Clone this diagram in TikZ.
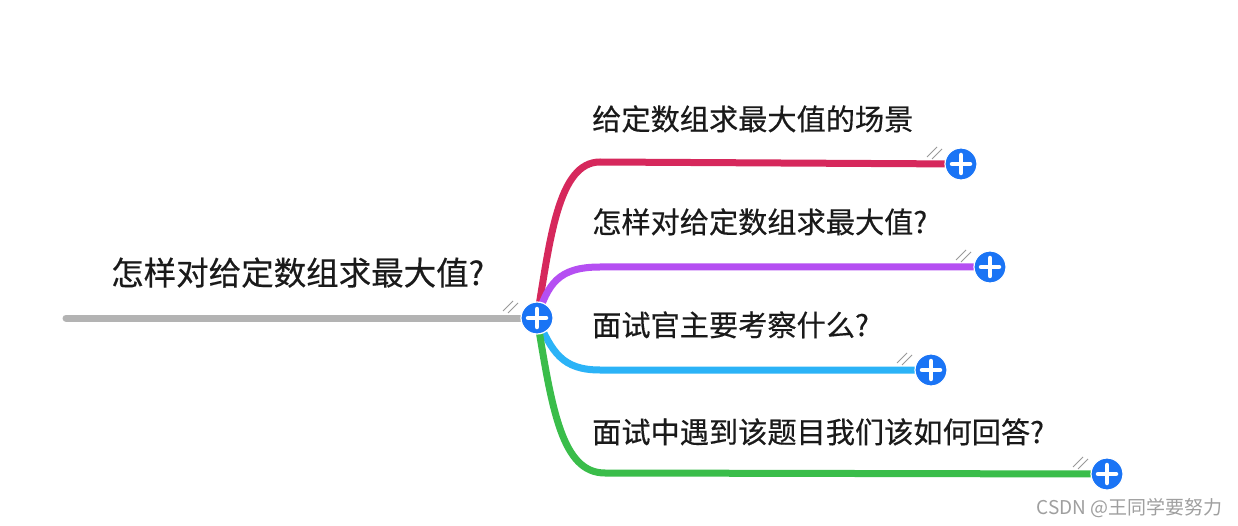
\documentclass[tikz,border=0pt]{standalone}
\usepackage{fontspec}
\setmainfont{Noto Sans CJK SC}[FakeBold=0.4]
\newfontfamily\wmfont{Noto Sans CJK SC}
\definecolor{rootgray}{HTML}{B3B3B3}
\definecolor{bred}{HTML}{D6285C}
\definecolor{bpurple}{HTML}{B54FF2}
\definecolor{bblue}{HTML}{2BB3F7}
\definecolor{bgreen}{HTML}{3ABD4A}
\definecolor{plusblue}{HTML}{1A74F5}
\definecolor{txt}{HTML}{1A1A1A}
\tikzset{
  branch/.style={line width=7pt, line cap=round},
  plusnode/.style={circle, fill=plusblue, draw=white, line width=1.2pt, minimum size=32pt, inner sep=0pt,
    path picture={\draw[white, line width=4.5pt, line cap=round]
      ([xshift=-9pt]path picture bounding box.center) -- ([xshift=9pt]path picture bounding box.center)
      ([yshift=-9pt]path picture bounding box.center) -- ([yshift=9pt]path picture bounding box.center);}},
  roottext/.style={anchor=base west, inner sep=0pt, font=\fontsize{32.5}{36}\selectfont, text=txt},
  brtext/.style={anchor=base west, inner sep=0pt, font=\fontsize{29.2}{33}\selectfont, text=txt},
  slashes/.style={draw=gray!80, line width=1pt}
}
\begin{document}
\begin{tikzpicture}[x=1pt, y=-1pt]
\useasboundingbox (0,0) rectangle (1238,526);
\fill[white] (0,0) rectangle (1238,526);
% coordinates
\coordinate (rstart) at (66,318);
\coordinate (c) at (537,318);
\coordinate (e1) at (961,164);
\coordinate (e2) at (990,267);
\coordinate (e3) at (931,370);
\coordinate (e4) at (1107,474);
% root line
\draw[branch, rootgray] (rstart) -- (c);
% branches
\draw[branch, bred] (c) .. controls (550,240) and (558,162) .. (600,162) -- (e1);
\draw[branch, bpurple] (c) .. controls (548,284) and (558,267) .. (600,267) -- (e2);
\draw[branch, bblue] (c) .. controls (552,352) and (562,370) .. (600,370) -- (e3);
\draw[branch, bgreen] (c) .. controls (552,410) and (562,473) .. (605,473) -- (e4);
% slash marks
\foreach \p in {c,e1,e2,e3,e4}{
  \draw[slashes] ([xshift=-34pt,yshift=7pt]\p) -- ([xshift=-24pt,yshift=17pt]\p);
  \draw[slashes] ([xshift=-29pt,yshift=5pt]\p) -- ([xshift=-19pt,yshift=15pt]\p);
}
% plus nodes
\node[plusnode] (pc) at (c) {};
\node[plusnode] (p1) at (e1) {};
\node[plusnode] (p2) at (e2) {};
\node[plusnode] (p3) at (e3) {};
\node[plusnode] (p4) at (e4) {};
% texts
\node[roottext] (troot) at (111,285) {怎样对给定数组求最大值?};
\node[brtext] (t1) at (592,130) {给定数组求最大值的场景};
\node[brtext] (t2) at (592,233) {怎样对给定数组求最大值?};
\node[brtext] (t3) at (592,336) {面试官主要考察什么?};
\node[brtext] (t4) at (592,443) {面试中遇到该题目我们该如何回答?};
% watermark
\node[anchor=base east, inner sep=0pt, font=\wmfont\fontsize{19}{22}\selectfont, text=gray!75] (wm) at (1223,514) {CSDN @王同学要努力};
\end{tikzpicture}
\end{document}
